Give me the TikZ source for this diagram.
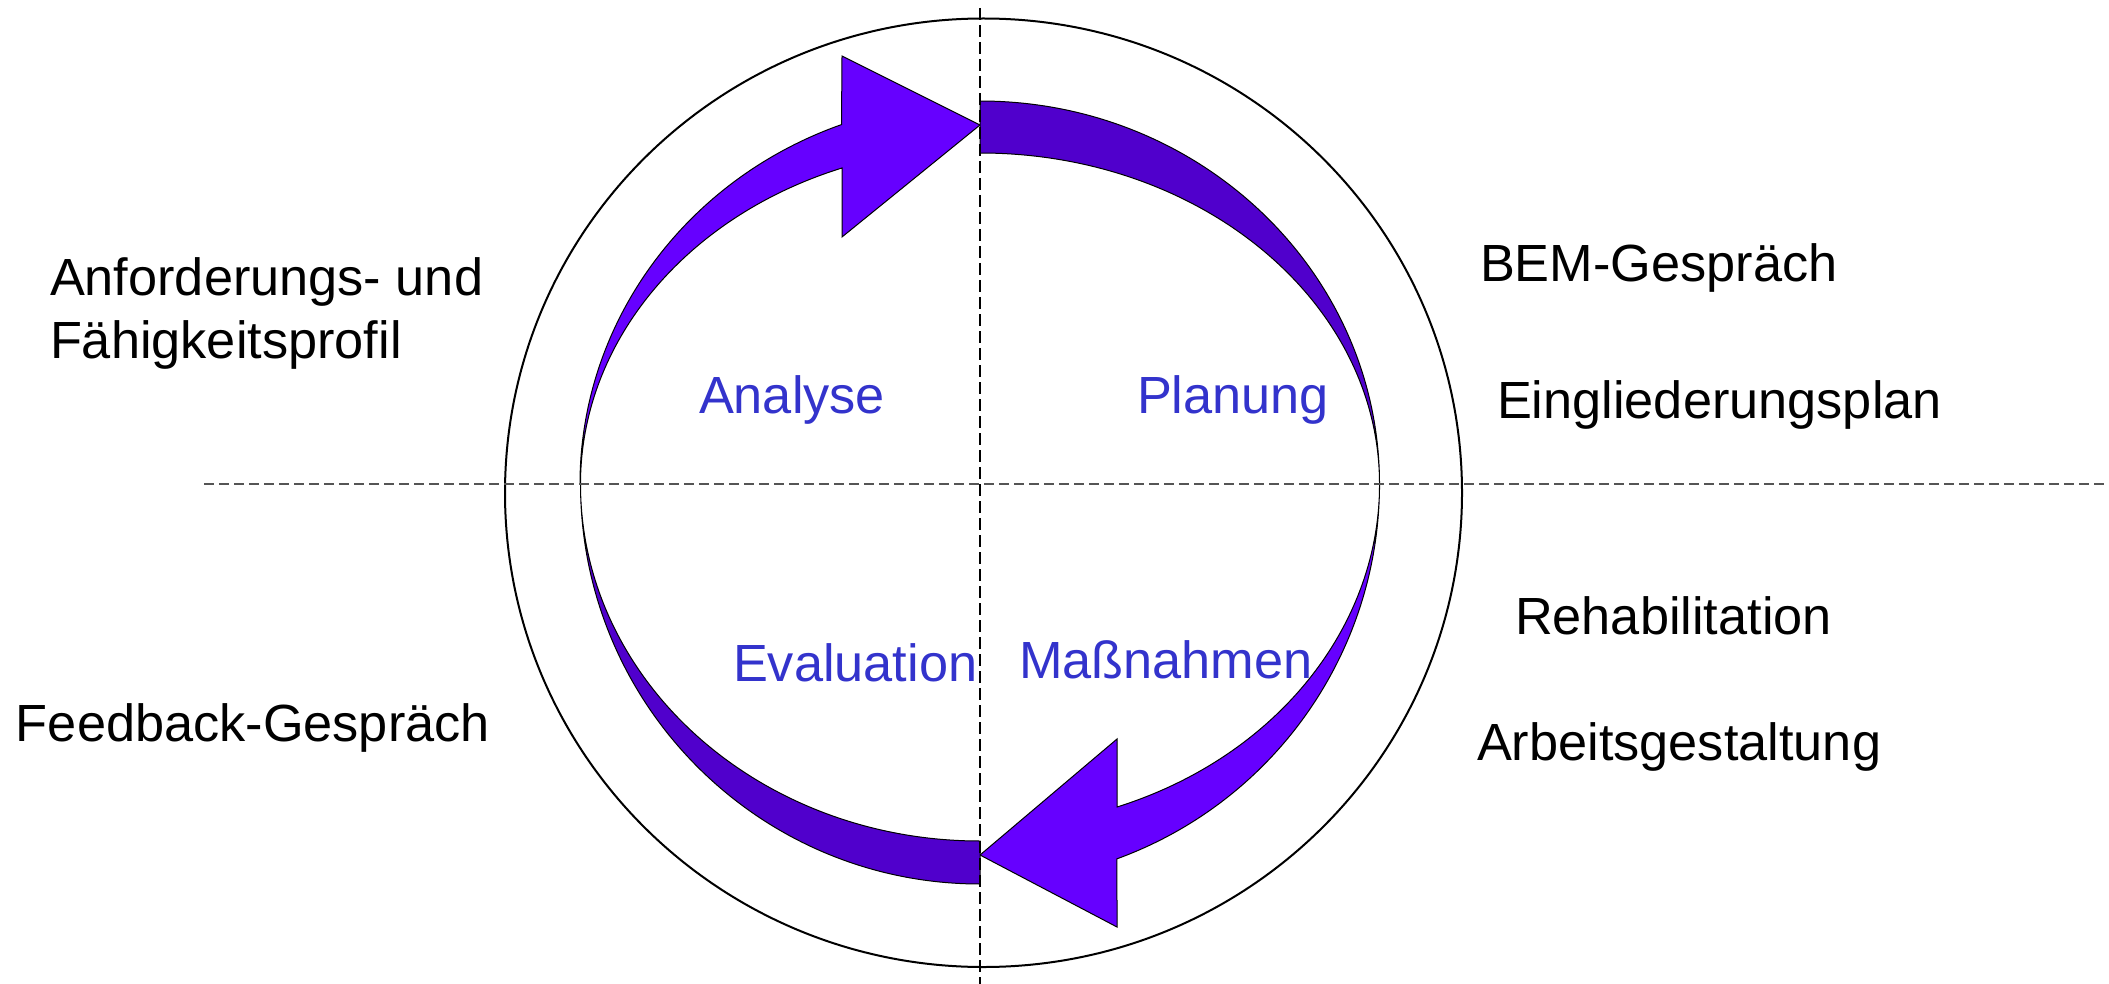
\documentclass[tikz,border=0pt]{standalone}
\usepackage{fontspec}
\setmainfont{Liberation Sans}
\definecolor{lightband}{HTML}{6600FF}
\definecolor{darkband}{HTML}{5000CC}
\definecolor{phase}{HTML}{3333CC}
\definecolor{hline}{HTML}{555555}
\begin{document}
\begin{tikzpicture}[x=0.5pt,y=-0.5pt,
  lbl/.style={anchor=base west,inner sep=0pt,outer sep=0pt,font=\fontsize{26.15}{30}\selectfont},
  phaselbl/.style={lbl,text=phase},
  bandlight/.style={fill=lightband,draw=black,line width=0.5pt,line join=miter},
  banddark/.style={fill=darkband,draw=black,line width=0.5pt,line join=miter},
  vdash/.style={draw=black,line width=1pt,dash pattern=on 6pt off 2.5pt},
  hdash/.style={draw=hline,line width=1pt,dash pattern=on 5pt off 2.5pt},
  outer/.style={draw=black,line width=1pt}]
\useasboundingbox[fill=white] (0,0) rectangle (2109,984);

% outer circle
\draw[outer] (983.5,492.75) ellipse [x radius=478.5, y radius=474.25];

% side texts
\node[lbl] (anf1) at (50,296) {Anforderungs- und};
\node[lbl] (anf2) at (50,358) {Fähigkeitsprofil};
\node[lbl] (feed) at (16,741) {Feedback-Gespräch};
\node[lbl] (bem) at (1480,282) {BEM-Gespräch};
\node[lbl] (eing) at (1497,418) {Eingliederungsplan};
\node[lbl] (reha) at (1515,634) {Rehabilitation};
\node[lbl] (arb) at (1477,760) {Arbeitsgestaltung};

% phase texts
\node[phaselbl] (ana) at (699,413) {Analyse};
\node[phaselbl] (plan) at (1137,413) {Planung};
\node[phaselbl] (eval) at (733,681) {Evaluation};
\node[phaselbl] (mass) at (1019,678) {Maßnahmen};

% upper-left band with arrow head
\path[bandlight] (580,484)
  arc[start angle=180, end angle=110.21, x radius=199.75pt, y radius=191.5pt]
  -- (842,56) -- (980,125) -- (842,237) -- (842,168)
  arc[start angle=110.21, end angle=180, x radius=199.75pt, y radius=168.35pt]
  -- cycle;
% upper-right dark band
\path[banddark] (980,101)
  arc[start angle=90, end angle=0, x radius=199.75pt, y radius=191.5pt]
  arc[start angle=0, end angle=90, x radius=199.75pt, y radius=165.5pt]
  -- cycle;
% lower-right band with arrow head
\path[bandlight] (1379.5,484)
  arc[start angle=0, end angle=-69.95, x radius=199.75pt, y radius=199.5pt]
  -- (1117,927) -- (980,855) -- (1117,739) -- (1117,807)
  arc[start angle=-69.95, end angle=0, x radius=199.75pt, y radius=171.9pt]
  -- cycle;
% lower-left dark band
\path[banddark] (980,884)
  arc[start angle=270, end angle=180, x radius=199.75pt, y radius=200pt]
  arc[start angle=180, end angle=270, x radius=199.75pt, y radius=178.5pt]
  -- cycle;

% axes
\coordinate (vtop) at (980,8);
\coordinate (vbot) at (980,984);
\coordinate (hl) at (204,483.5);
\coordinate (hr) at (2109,483.5);
\draw[hdash] (hl) -- (hr);
\draw[vdash] (vtop) -- (vbot);
\end{tikzpicture}
\end{document}
